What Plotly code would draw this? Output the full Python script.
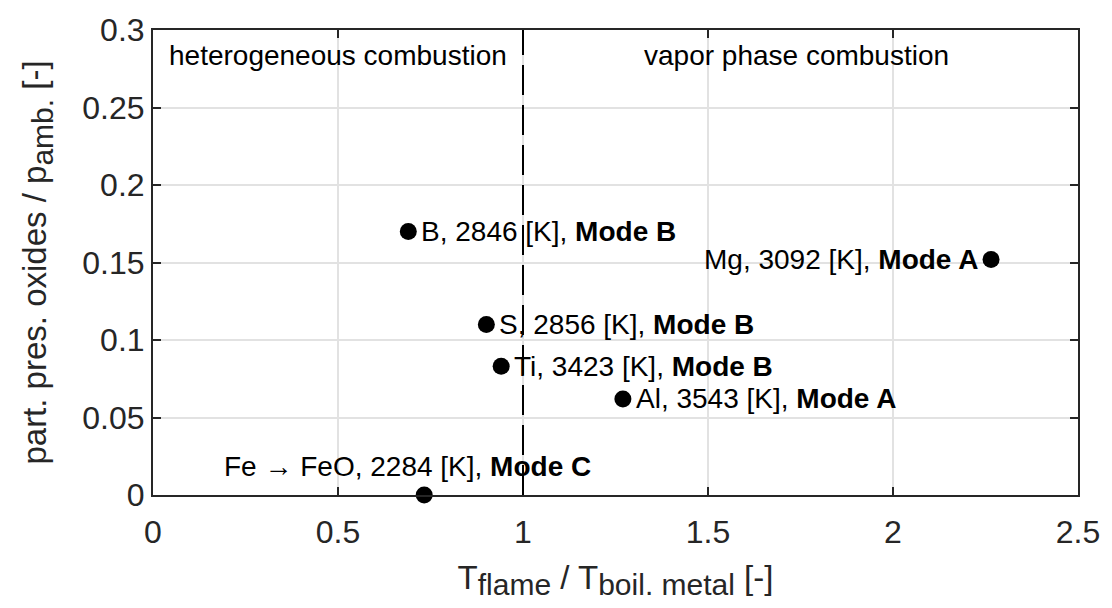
import plotly.graph_objects as go

# ---- data ----
elements = ["B", "S", "Ti", "Al", "Mg", "Fe \u2192 FeO"]
t_ratio = [0.690, 0.901, 0.941, 1.270, 2.265, 0.733]
p_ratio = [0.170, 0.110, 0.083, 0.062, 0.152, 0.0]
temps_K = [2846, 2856, 3423, 3543, 3092, 2284]
modes = ["B", "B", "B", "A", "A", "C"]

x_ticks = [0, 0.5, 1, 1.5, 2, 2.5]
x_tick_labels = ["0", "0.5", "1", "1.5", "2", "2.5"]
y_ticks = [0, 0.05, 0.1, 0.15, 0.2, 0.25, 0.3]
y_tick_labels = ["0", "0.05", "0.1", "0.15", "0.2", "0.25", "0.3"]

boundary = 1.0
regions = ["heterogeneous combustion", "vapor phase combustion"]

# ---- style ----
FONT = "Liberation Sans, Arial, Helvetica, sans-serif"
AX = "#262626"
label_side = ["right", "right", "right", "right", "left", "above"]


def sub(s):
    return f'<sub><span style="font-size:30px">{s}</span></sub>'


fig = go.Figure()
fig.add_trace(go.Scatter(
    x=t_ratio, y=p_ratio, mode="markers",
    marker=dict(size=17, color="black"),
    cliponaxis=False, showlegend=False, hoverinfo="skip"))

for name, xv, yv, T, m, side in zip(elements, t_ratio, p_ratio, temps_K, modes, label_side):
    txt = f"{name}, {T} [K], <b>Mode {m}</b>"
    if side == "right":
        fig.add_annotation(x=xv, y=yv, text=txt, showarrow=False,
                           xanchor="left", yanchor="middle", xshift=11)
    elif side == "left":
        fig.add_annotation(x=xv, y=yv, text=txt, showarrow=False,
                           xanchor="right", yanchor="middle", xshift=-11)
    else:
        fig.add_annotation(x=xv, y=yv, text=txt, showarrow=False,
                           xanchor="center", yanchor="middle", xshift=-17, yshift=29)

fig.add_shape(type="line", x0=boundary, x1=boundary, y0=0, y1=1,
              xref="x", yref="y domain",
              line=dict(color="black", width=2, dash="30px,10px"))

fig.add_annotation(x=0.037, y=0.2834, text=regions[0], showarrow=False,
                   xanchor="left", yanchor="middle")
fig.add_annotation(x=1.74, y=0.2834, text=regions[1], showarrow=False,
                   xanchor="center", yanchor="middle")

fig.update_annotations(font=dict(family=FONT, size=28, color="black"))

axis_common = dict(
    showline=True, linecolor=AX, linewidth=2, mirror="allticks",
    ticks="inside", ticklen=8, tickwidth=2, tickcolor=AX,
    showgrid=True, gridcolor="#e2e2e2", gridwidth=2,
    zeroline=False, tickfont=dict(family=FONT, size=32, color=AX),
    ticklabeloverflow="allow",
)

fig.update_xaxes(range=[0, 2.5], tickvals=x_ticks, ticktext=x_tick_labels,
                 ticklabelstandoff=8,
                 title=dict(text=f"T{sub('flame')} / T{sub('boil. metal')} [-]",
                            font=dict(family=FONT, size=33, color=AX), standoff=16),
                 **axis_common)
fig.update_yaxes(range=[0, 0.3], tickvals=y_ticks, ticktext=y_tick_labels,
                 title=dict(text=f"part. pres. oxides / p{sub('amb.')} [-]",
                            font=dict(family=FONT, size=33, color=AX), standoff=26),
                 **axis_common)

fig.update_layout(
    width=1112, height=608,
    margin=dict(l=153, r=24, t=17, b=113),
    plot_bgcolor="white", paper_bgcolor="white",
)

fig.write_html("out.html")
